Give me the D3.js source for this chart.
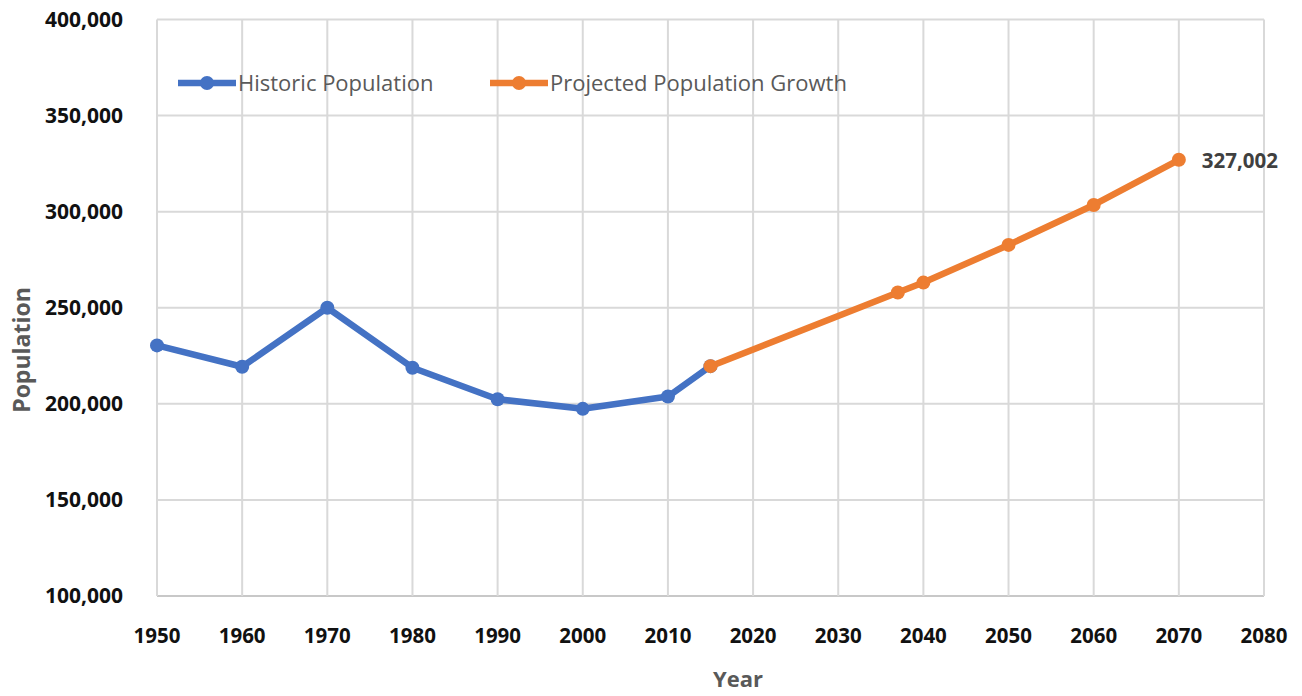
<!DOCTYPE html>
<html><head><meta charset="utf-8">
<script src="https://cdn.jsdelivr.net/npm/d3@7"></script>
<style>body{margin:0;background:#fff}svg{display:block}</style>
</head><body>
<svg id="c" width="1302" height="696"></svg>
<script>
const historicYears = [1950,1960,1970,1980,1990,2000,2010,2015];
const historicPop   = [230400,219300,250000,218800,202400,197400,203800,219600];
const projectedYears = [2015,2037,2040,2050,2060,2070];
const projectedPop   = [219600,257900,263100,282700,303500,327002];
const xTicks = [1950,1960,1970,1980,1990,2000,2010,2020,2030,2040,2050,2060,2070,2080];
const yTicks = [100000,150000,200000,250000,300000,350000,400000];
const seriesNames = ["Historic Population","Projected Population Growth"];
const colors = ["#4472C4","#ED7D31"];

const svg = d3.select("#c");
const x = d3.scaleLinear().domain([1950,2080]).range([157,1264]);
const y = d3.scaleLinear().domain([100000,400000]).range([596,19.5]);
const font = "'Open Sans', 'Liberation Sans', sans-serif";

// gridlines
svg.append("g").selectAll("line").data(yTicks).join("line")
  .attr("x1",x(1950)).attr("x2",x(2080)).attr("y1",d=>y(d)).attr("y2",d=>y(d))
  .attr("stroke",d=>d===100000?"#c8c8c8":"#d9d9d9").attr("stroke-width",2);
svg.append("g").selectAll("line").data(xTicks).join("line")
  .attr("x1",d=>x(d)).attr("x2",d=>x(d)).attr("y1",y(400000)).attr("y2",y(100000))
  .attr("stroke","#d9d9d9").attr("stroke-width",2);

// y tick labels
svg.append("g").selectAll("text").data(yTicks).join("text")
  .attr("x",123).attr("y",d=>y(d)).attr("dy","0.35em").attr("text-anchor","end")
  .attr("font-family",font).attr("font-weight","bold").attr("font-size",21)
  .attr("fill","#111").text(d3.format(","));
// x tick labels
svg.append("g").selectAll("text").data(xTicks).join("text")
  .attr("x",d=>x(d)).attr("y",636).attr("dy","0.35em").attr("text-anchor","middle")
  .attr("font-family",font).attr("font-weight","bold").attr("font-size",20.5)
  .attr("fill","#111").text(d=>d);

// axis titles
svg.append("text").attr("transform","translate(22,350) rotate(-90)")
  .attr("text-anchor","middle").attr("dy","0.35em")
  .attr("font-family",font).attr("font-weight","bold").attr("font-size",23)
  .attr("fill","#595959").text("Population");
svg.append("text").attr("x",738).attr("y",679).attr("dy","0.35em")
  .attr("text-anchor","middle")
  .attr("font-family",font).attr("font-weight","bold").attr("font-size",22)
  .attr("fill","#595959").text("Year");

const line = d3.line().x(d=>x(d[0])).y(d=>y(d[1]));
const hist = historicYears.map((d,i)=>[d,historicPop[i]]);
const proj = projectedYears.map((d,i)=>[d,projectedPop[i]]);
[[hist,colors[0]],[proj,colors[1]]].forEach(([data,col])=>{
  svg.append("path").datum(data).attr("d",line).attr("fill","none")
    .attr("stroke",col).attr("stroke-width",6.5).attr("stroke-linejoin","round");
  svg.append("g").selectAll("circle").data(data).join("circle")
    .attr("cx",d=>x(d[0])).attr("cy",d=>y(d[1])).attr("r",7).attr("fill",col);
});

// data label
const last = proj[proj.length-1];
svg.append("text").attr("x",x(last[0])+23).attr("y",y(last[1])+1).attr("dy","0.35em")
  .attr("text-anchor","start")
  .attr("font-family",font).attr("font-weight","bold").attr("font-size",20.5)
  .attr("fill","#404040").text(d3.format(",")(last[1]));

// legend
const legX = [178,490];
seriesNames.forEach((n,i)=>{
  const g = svg.append("g");
  g.append("line").attr("x1",legX[i]).attr("x2",legX[i]+58).attr("y1",83).attr("y2",83)
    .attr("stroke",colors[i]).attr("stroke-width",6.5);
  g.append("circle").attr("cx",legX[i]+29).attr("cy",83).attr("r",7).attr("fill",colors[i]);
  g.append("text").attr("x",legX[i]+60).attr("y",83).attr("dy","0.35em")
    .attr("font-family",font)
    .attr("font-size",22).attr("fill","#595959").text(n);
});
</script>
</body></html>
